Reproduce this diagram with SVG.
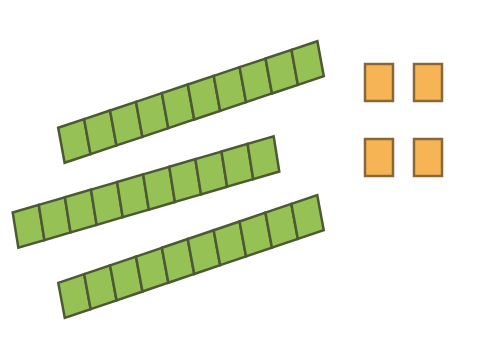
<svg xmlns="http://www.w3.org/2000/svg" width="477" height="348" viewBox="0 0 477 348">
<style>
.g{fill:#95c155;stroke:#4c5a34;stroke-width:2.5;vector-effect:non-scaling-stroke}
.o{fill:#f6b455;stroke:#8a6736;stroke-width:2.5}
</style>
<defs>
<g id="rod">
<rect class="g" x="-133.5" y="-13.35" width="26.7" height="26.7"/>
<rect class="g" x="-106.8" y="-13.35" width="26.7" height="26.7"/>
<rect class="g" x="-80.1" y="-13.35" width="26.7" height="26.7"/>
<rect class="g" x="-53.4" y="-13.35" width="26.7" height="26.7"/>
<rect class="g" x="-26.7" y="-13.35" width="26.7" height="26.7"/>
<rect class="g" x="0" y="-13.35" width="26.7" height="26.7"/>
<rect class="g" x="26.7" y="-13.35" width="26.7" height="26.7"/>
<rect class="g" x="53.4" y="-13.35" width="26.7" height="26.7"/>
<rect class="g" x="80.1" y="-13.35" width="26.7" height="26.7"/>
<rect class="g" x="106.8" y="-13.35" width="26.7" height="26.7"/>
</g>
</defs>
<rect width="477" height="348" fill="#ffffff"/>
<g id="rod1"><use href="#rod" transform="translate(191,102) scale(1,1.35) rotate(-13.9)"/></g>
<g id="rod2"><use href="#rod" transform="translate(146,192) scale(1,1.35) rotate(-12.2)"/></g>
<g id="rod3"><use href="#rod" transform="translate(191,256.5) scale(1,1.35) rotate(-14.1)"/></g>
<g id="unit1"><rect class="o" x="365" y="64" width="28" height="37"/></g>
<g id="unit2"><rect class="o" x="414" y="64" width="28" height="37"/></g>
<g id="unit3"><rect class="o" x="365" y="139" width="28" height="37"/></g>
<g id="unit4"><rect class="o" x="414" y="139" width="28" height="37"/></g>
</svg>
